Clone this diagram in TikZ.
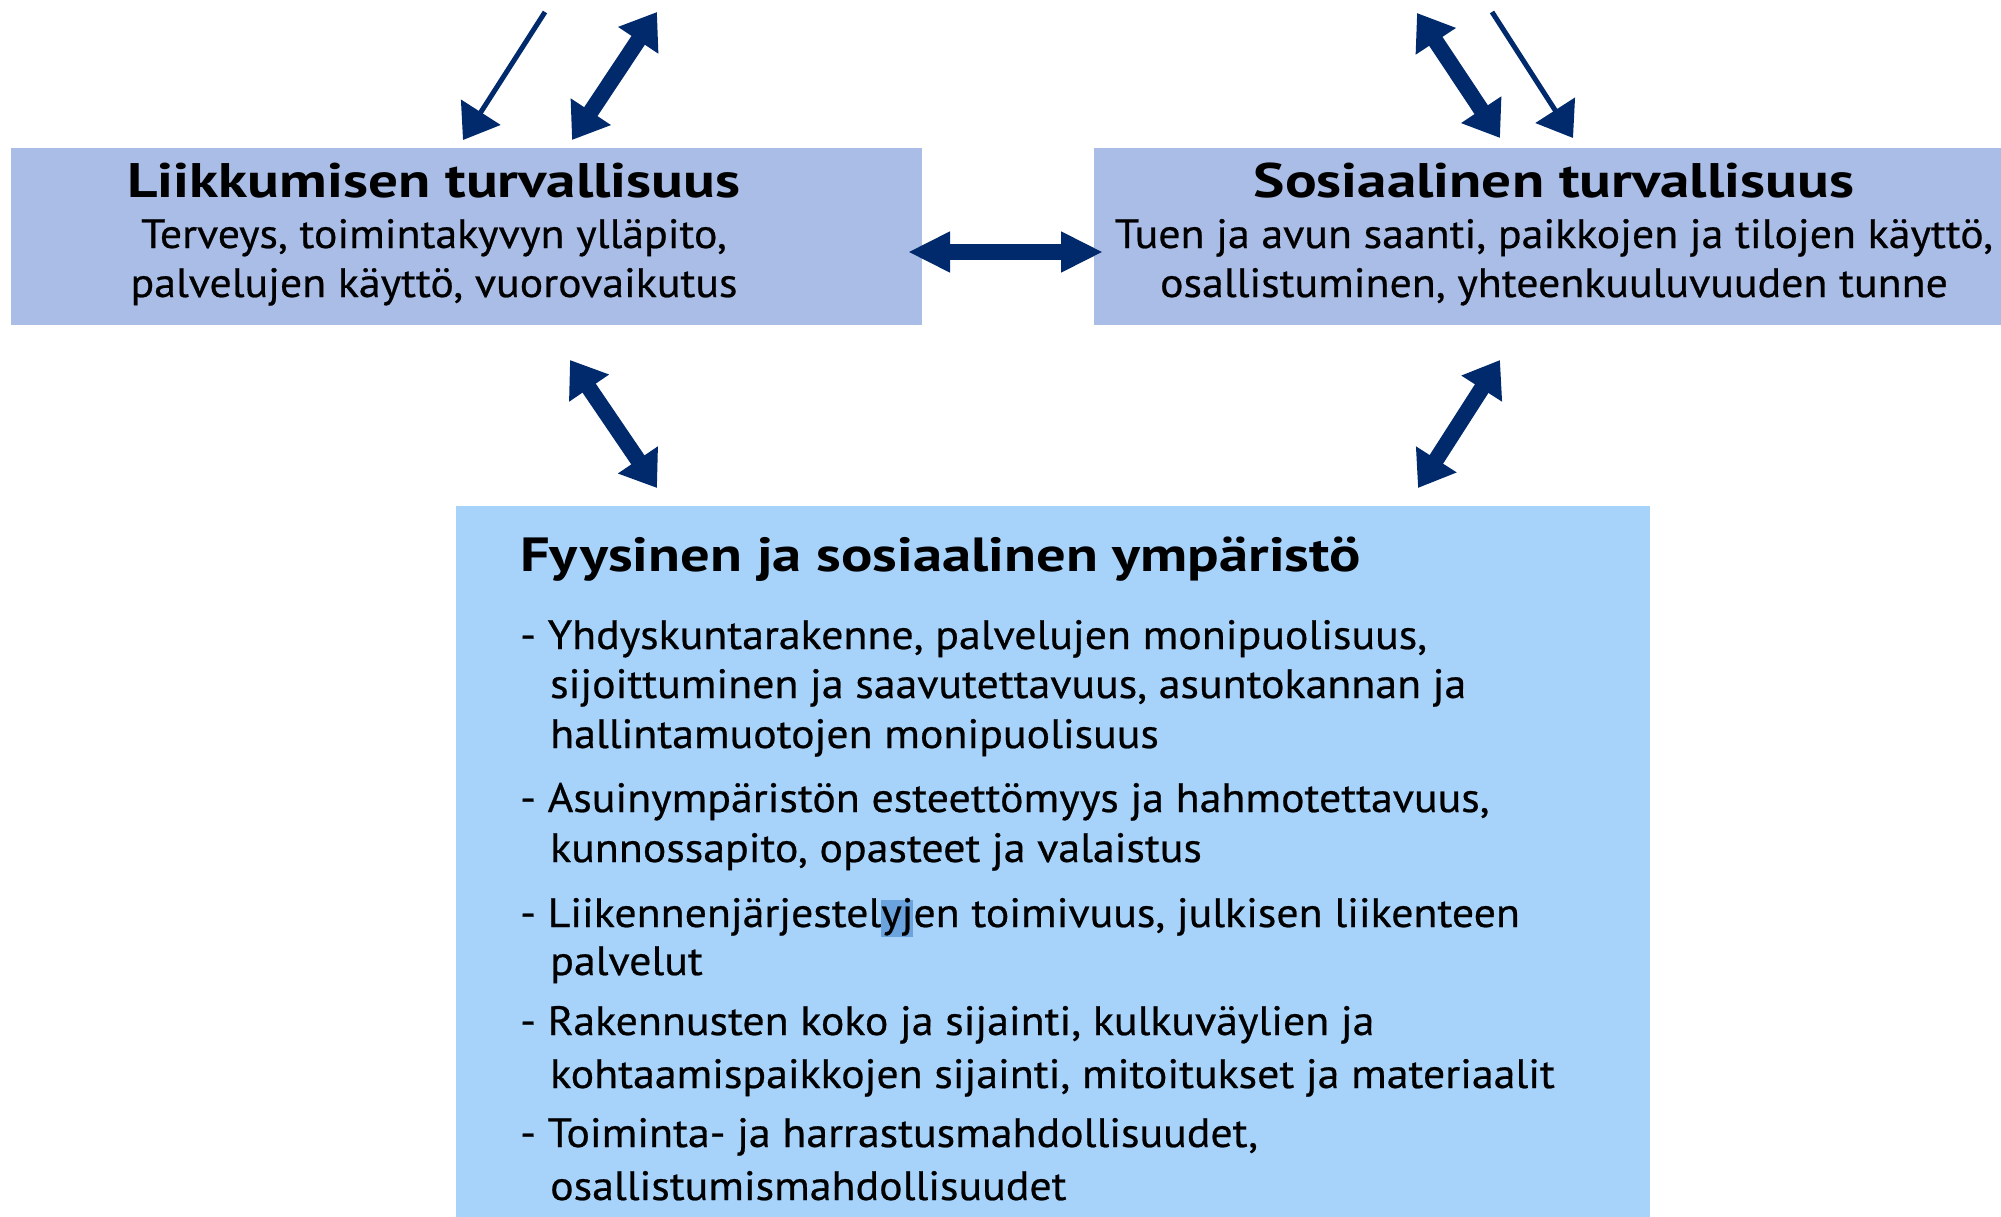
\documentclass[tikz,border=0pt]{standalone}
\usepackage{fontspec}
\setmainfont{PT Sans}
\newfontfamily\bodyfont[FakeStretch=1.07, FakeBold=0.6]{PT Sans}
\newfontfamily\headfont[FakeStretch=1.22]{PT Sans}
\usetikzlibrary{arrows.meta}
\definecolor{topbox}{RGB}{169,189,230}
\definecolor{envbox}{RGB}{167,211,251}
\definecolor{navy}{RGB}{0,42,108}
\definecolor{hlblue}{RGB}{106,163,221}
\newcommand\hlmark[1]{\setbox0\hbox{#1}\rlap{\textcolor{hlblue}{\rule[-10pt]{\wd0}{37pt}}}\box0}
\tikzset{
  panel/.style={draw=none, inner sep=0pt, outer sep=0pt},
  headtext/.style={inner sep=0pt, font=\fontsize{48.5}{56}\headfont\bfseries, text=black},
  bodytext/.style={inner sep=0pt, font=\fontsize{41}{51}\bodyfont, text=black},
  envhead/.style={inner sep=0pt, font=\fontsize{48}{58}\headfont\bfseries, text=black},
  dblarrow/.style={draw=navy, line width=16pt, {Triangle[width=46pt,length=34pt]}-{Triangle[width=46pt,length=34pt]}},
  midarrow/.style={draw=navy, line width=16pt, {Triangle[width=38pt,length=42pt]}-{Triangle[width=38pt,length=42pt]}},
  thinarrow/.style={draw=navy, line width=5pt, -{Triangle[width=46pt,length=33pt]}}
}
\begin{document}
\begin{tikzpicture}[x=1pt,y=-1pt]
\useasboundingbox (0,0) rectangle (2001,1217);
\fill[white] (0,0) rectangle (2001,1217);
% boxes
\node[panel, fill=topbox, minimum width=911pt, minimum height=177pt] (lbox) at (466.5,236.5) {};
\node[panel, fill=topbox, minimum width=907pt, minimum height=177pt] (rbox) at (1547.5,236.5) {};
\node[panel, fill=envbox, minimum width=1194pt, minimum height=711pt] (ebox) at (1052.5,861.5) {};
% left box text
\node[headtext, anchor=base] (lt1) at (434,197) {Liikkumisen turvallisuus};
\node[bodytext, anchor=base] (lt2) at (434,248) {Terveys, toimintakyvyn ylläpito,};
\node[bodytext, anchor=base] (lt3) at (434,297) {palvelujen käyttö, vuorovaikutus};
% right box text
\node[headtext, anchor=base] (rt1) at (1554,197) {Sosiaalinen turvallisuus};
\node[bodytext, anchor=base] (rt2) at (1554,248) {Tuen ja avun saanti, paikkojen ja tilojen käyttö,};
\node[bodytext, anchor=base] (rt3) at (1554,297) {osallistuminen, yhteenkuuluvuuden tunne};
% environment text
\node[envhead, anchor=base west] (et0) at (520,571) {Fyysinen ja sosiaalinen ympäristö};
\node[bodytext, anchor=base west] (e11) at (520,649) {- Yhdyskuntarakenne, palvelujen monipuolisuus,};
\node[bodytext, anchor=base west] (e12) at (550,698) {sijoittuminen ja saavutettavuus, asuntokannan ja};
\node[bodytext, anchor=base west] (e13) at (550,748) {hallintamuotojen monipuolisuus};
\node[bodytext, anchor=base west] (e21) at (520,812) {- Asuinympäristön esteettömyys ja hahmotettavuus,};
\node[bodytext, anchor=base west] (e22) at (550,862) {kunnossapito, opasteet ja valaistus};
\node[bodytext, anchor=base west] (e31) at (520,927) {- Liikennenjärjestel\hlmark{yj}en toimivuus, julkisen liikenteen};
\node[bodytext, anchor=base west] (e32) at (550,975) {palvelut};
\node[bodytext, anchor=base west] (e41) at (520,1035) {- Rakennusten koko ja sijainti, kulkuväylien ja};
\node[bodytext, anchor=base west] (e42) at (550,1088) {kohtaamispaikkojen sijainti, mitoitukset ja materiaalit};
\node[bodytext, anchor=base west] (e51) at (520,1147) {- Toiminta- ja harrastusmahdollisuudet,};
\node[bodytext, anchor=base west] (e52) at (550,1200) {osallistumismahdollisuudet};
% arrow end points
\coordinate (tlthinA) at (545,12);
\coordinate (tlthinB) at (463,140);
\coordinate (tlthickA) at (657,12);
\coordinate (tlthickB) at (572,140);
\coordinate (trthickA) at (1417,13);
\coordinate (trthickB) at (1500,138);
\coordinate (trthinA) at (1492,12);
\coordinate (trthinB) at (1573,138);
\coordinate (midA) at (908,252);
\coordinate (midB) at (1103,252);
\coordinate (blA) at (570,360);
\coordinate (blB) at (657,488);
\coordinate (brA) at (1500,360);
\coordinate (brB) at (1418,488);
% arrows
\draw[thinarrow] (tlthinA) -- (tlthinB);
\draw[dblarrow] (tlthickA) -- (tlthickB);
\draw[dblarrow] (trthickA) -- (trthickB);
\draw[thinarrow] (trthinA) -- (trthinB);
\draw[midarrow] (midA) -- (midB);
\draw[dblarrow] (blA) -- (blB);
\draw[dblarrow] (brA) -- (brB);
\end{tikzpicture}
\end{document}
